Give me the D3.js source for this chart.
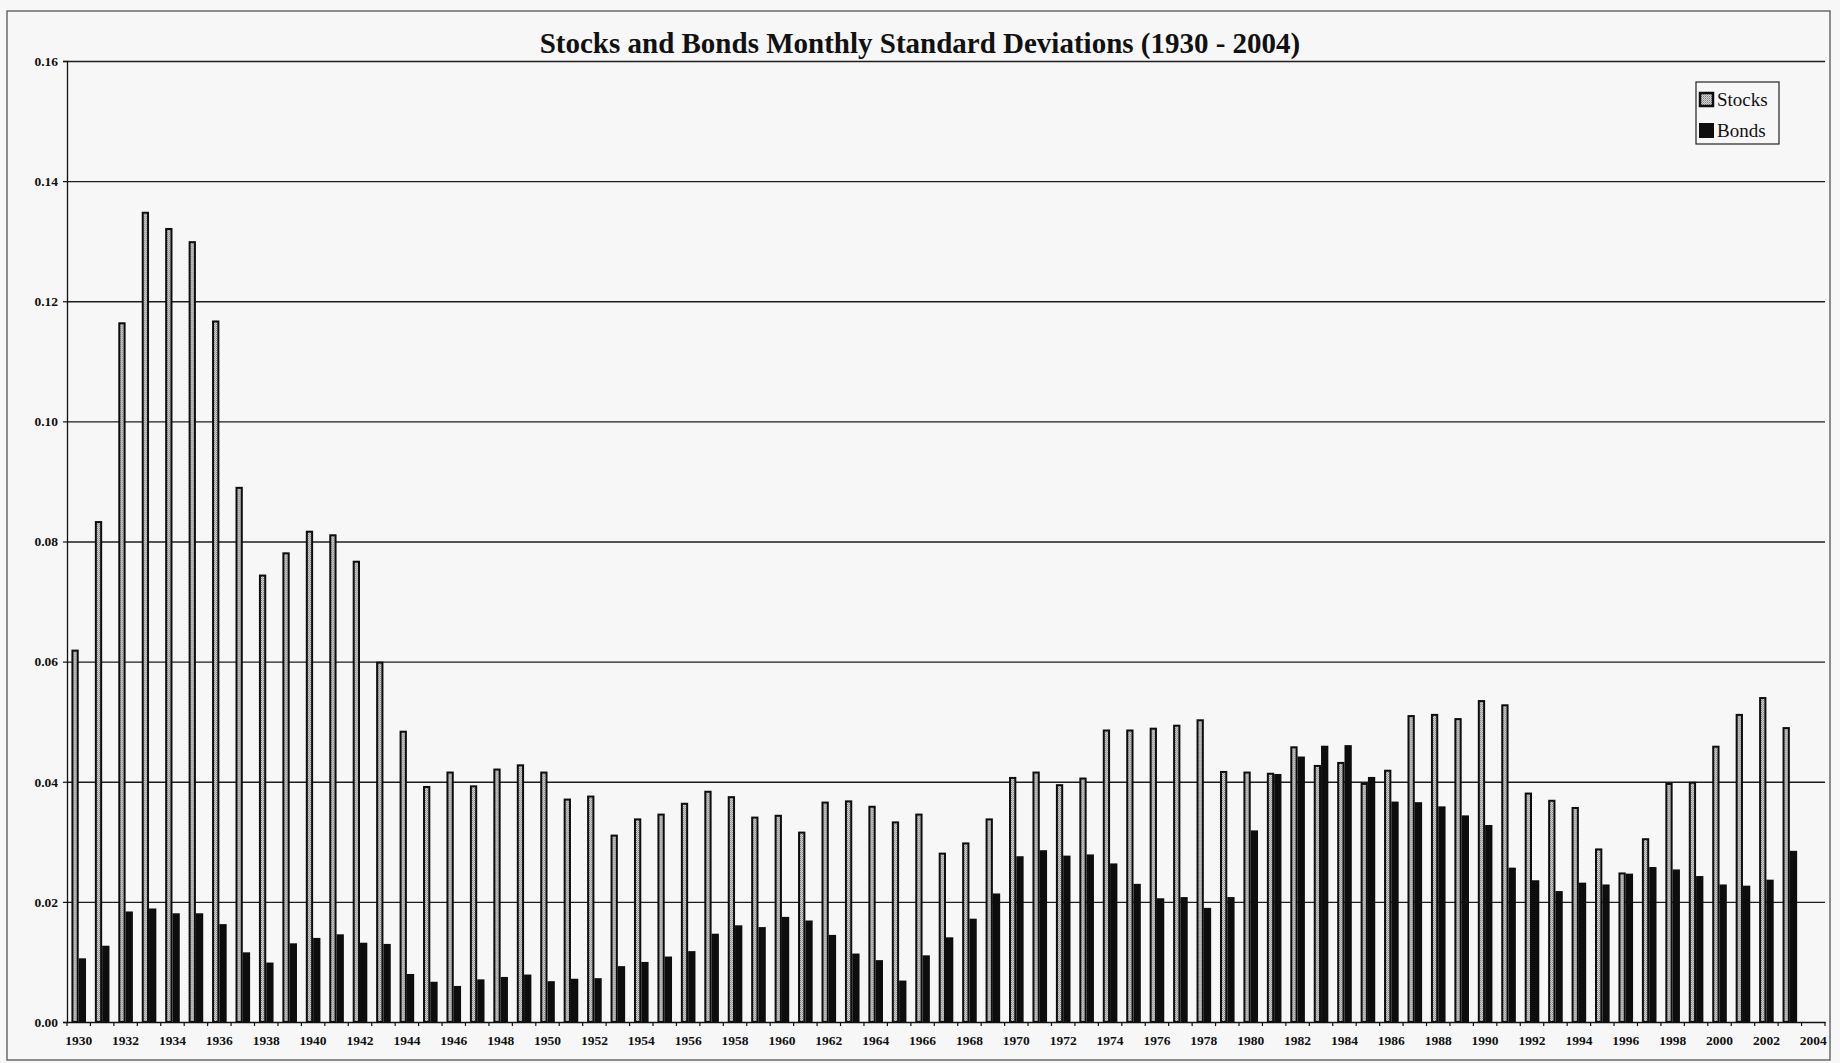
<!DOCTYPE html>
<html>
<head>
<meta charset="utf-8">
<script src="https://cdn.jsdelivr.net/npm/d3@7"></script>
<style>
  html, body { margin: 0; padding: 0; background: #f7f7f7; }
  svg { display: block; }
  text { font-family: "Liberation Serif", "Times New Roman", serif; fill: #111; }
</style>
</head>
<body>
<script>
// Calendar years on the category axis (2004 closes the axis with no bars)
const years = [
  1930, 1931, 1932, 1933, 1934, 1935, 1936, 1937, 1938, 1939,
  1940, 1941, 1942, 1943, 1944, 1945, 1946, 1947, 1948, 1949,
  1950, 1951, 1952, 1953, 1954, 1955, 1956, 1957, 1958, 1959,
  1960, 1961, 1962, 1963, 1964, 1965, 1966, 1967, 1968, 1969,
  1970, 1971, 1972, 1973, 1974, 1975, 1976, 1977, 1978, 1979,
  1980, 1981, 1982, 1983, 1984, 1985, 1986, 1987, 1988, 1989,
  1990, 1991, 1992, 1993, 1994, 1995, 1996, 1997, 1998, 1999,
  2000, 2001, 2002, 2003, 2004
];

// Monthly standard deviation of stock returns, 1930-2003
const stocks = [
  0.0620, 0.0834, 0.1165, 0.1349, 0.1322, 0.1300, 0.1168, 0.0891, 0.0745, 0.0782,
  0.0818, 0.0812, 0.0768, 0.0600, 0.0485, 0.0393, 0.0417, 0.0394, 0.0422, 0.0429,
  0.0417, 0.0372, 0.0377, 0.0312, 0.0339, 0.0347, 0.0365, 0.0385, 0.0376, 0.0342,
  0.0345, 0.0317, 0.0367, 0.0369, 0.0360, 0.0334, 0.0347, 0.0282, 0.0299, 0.0339,
  0.0408, 0.0417, 0.0396, 0.0407, 0.0487, 0.0487, 0.0490, 0.0495, 0.0504, 0.0418,
  0.0417, 0.0415, 0.0459, 0.0428, 0.0433, 0.0398, 0.0420, 0.0511, 0.0513, 0.0506,
  0.0536, 0.0529, 0.0382, 0.0370, 0.0358, 0.0289, 0.0249, 0.0306, 0.0398, 0.0400,
  0.0460, 0.0513, 0.0541, 0.0491
];

// Monthly standard deviation of bond returns, 1930-2003
const bonds = [
  0.0106, 0.0127, 0.0184, 0.0189, 0.0181, 0.0181, 0.0163, 0.0116, 0.0099, 0.0131,
  0.0140, 0.0146, 0.0132, 0.0130, 0.0080, 0.0067, 0.0060, 0.0071, 0.0075, 0.0079,
  0.0068, 0.0072, 0.0073, 0.0093, 0.0100, 0.0109, 0.0118, 0.0147, 0.0161, 0.0158,
  0.0175, 0.0169, 0.0145, 0.0114, 0.0103, 0.0069, 0.0111, 0.0141, 0.0172, 0.0214,
  0.0276, 0.0286, 0.0277, 0.0279, 0.0264, 0.0230, 0.0206, 0.0208, 0.0190, 0.0208,
  0.0319, 0.0413, 0.0442, 0.0460, 0.0461, 0.0408, 0.0367, 0.0366, 0.0359, 0.0344,
  0.0328, 0.0257, 0.0236, 0.0218, 0.0232, 0.0229, 0.0247, 0.0258, 0.0254, 0.0243,
  0.0229, 0.0227, 0.0237, 0.0285
];

const seriesNames = ["Stocks", "Bonds"];

// Value axis ticks
const yTicks = [0.00, 0.02, 0.04, 0.06, 0.08, 0.10, 0.12, 0.14, 0.16];

// Years that carry a label on the category axis
const xLabelYears = [
  1930, 1932, 1934, 1936, 1938, 1940, 1942, 1944, 1946, 1948,
  1950, 1952, 1954, 1956, 1958, 1960, 1962, 1964, 1966, 1968,
  1970, 1972, 1974, 1976, 1978, 1980, 1982, 1984, 1986, 1988,
  1990, 1992, 1994, 1996, 1998, 2000, 2002, 2004
];

const title = "Stocks and Bonds Monthly Standard Deviations (1930 - 2004)";

// ---- layout ----
const W = 1840, H = 1063;
const plot = { left: 67, right: 1825, top: 61, bottom: 1022 };
const serif = "'Liberation Serif', 'Times New Roman', serif";

const svg = d3.select("body").append("svg")
  .attr("width", W).attr("height", H);

// stippled fill used by the stock bars
const defs = svg.append("defs");
const pat = defs.append("pattern")
  .attr("id", "stipple")
  .attr("width", 2).attr("height", 2)
  .attr("patternUnits", "userSpaceOnUse");
pat.append("rect").attr("width", 2).attr("height", 2).attr("fill", "#d6d6d6");
pat.append("rect").attr("width", 1).attr("height", 1).attr("fill", "#7e7e7e");
pat.append("rect").attr("x", 1).attr("y", 1).attr("width", 1).attr("height", 1).attr("fill", "#a2a2a2");

// page background and outer frame
svg.append("rect").attr("width", W).attr("height", H).attr("fill", "#f7f7f7");
svg.append("rect")
  .attr("x", 7).attr("y", 11).attr("width", 1823).attr("height", 1049)
  .attr("fill", "none").attr("stroke", "#555").attr("stroke-width", 1.3);

// ---- scales ----
const x0 = d3.scaleBand()
  .domain(years)
  .range([plot.left, plot.right])
  .paddingInner(0.377)
  .paddingOuter(0.1885);

const x1 = d3.scaleBand()
  .domain(seriesNames)
  .range([0, x0.bandwidth()]);

const y = d3.scaleLinear()
  .domain([0, 0.16])
  .range([plot.bottom, plot.top]);

// ---- gridlines ----
svg.append("g")
  .attr("transform", `translate(${plot.left},0)`)
  .call(d3.axisLeft(y).tickValues(yTicks.filter(v => v > 0))
    .tickSize(-(plot.right - plot.left)).tickFormat(""))
  .call(g => g.select(".domain").remove())
  .call(g => g.selectAll("line").attr("stroke", "#1c1c1c").attr("stroke-width", 1.3));

// ---- bars ----
const rows = years.slice(0, stocks.length).map((yr, i) => ({
  year: yr,
  values: [
    { key: "Stocks", value: stocks[i] },
    { key: "Bonds", value: bonds[i] }
  ]
}));

const groups = svg.append("g").selectAll("g")
  .data(rows)
  .join("g")
  .attr("transform", d => `translate(${x0(d.year)},0)`);

const sw = 2;
groups.selectAll("rect")
  .data(d => d.values)
  .join("rect")
  .attr("x", d => x1(d.key) + (d.key === "Stocks" ? sw / 2 : 0))
  .attr("width", d => x1.bandwidth() - (d.key === "Stocks" ? sw : 0))
  .attr("y", d => y(d.value) + (d.key === "Stocks" ? sw / 2 : 0))
  .attr("height", d => y(0) - y(d.value) - (d.key === "Stocks" ? sw / 2 : 0))
  .attr("fill", d => d.key === "Stocks" ? "url(#stipple)" : "#0d0d0d")
  .attr("stroke", d => d.key === "Stocks" ? "#0d0d0d" : "none")
  .attr("stroke-width", sw);

// ---- value axis ----
svg.append("g")
  .attr("transform", `translate(${plot.left},0)`)
  .call(d3.axisLeft(y).tickValues(yTicks).tickSize(4).tickPadding(5)
    .tickFormat(d3.format(".2f")))
  .call(g => g.select(".domain").attr("stroke", "#111").attr("stroke-width", 1.3))
  .call(g => g.selectAll("line").attr("stroke", "#111").attr("stroke-width", 1.2))
  .call(g => g.selectAll("text")
    .attr("font-family", serif)
    .attr("font-size", 13.5).attr("font-weight", "bold").attr("fill", "#111"));

// ---- category axis ----
const xAxis = svg.append("g")
  .attr("transform", `translate(0,${plot.bottom})`)
  .call(d3.axisBottom(x0).tickValues(xLabelYears).tickSize(0).tickPadding(13))
  .call(g => g.select(".domain").attr("stroke", "#111").attr("stroke-width", 1.3))
  .call(g => g.selectAll("text")
    .attr("font-family", serif)
    .attr("font-size", 13.5).attr("font-weight", "bold").attr("fill", "#111"));

// tick marks sit on the boundaries between years
const boundaries = years.map(yr => x0(yr) - x0.step() * x0.paddingOuter())
  .concat([plot.right]);
xAxis.selectAll("line.boundary")
  .data(boundaries)
  .join("line")
  .attr("class", "boundary")
  .attr("x1", d => d).attr("x2", d => d)
  .attr("y1", 0).attr("y2", 4)
  .attr("stroke", "#111").attr("stroke-width", 1.2);

// ---- title ----
svg.append("text")
  .attr("x", 920).attr("y", 53)
  .attr("text-anchor", "middle")
  .attr("font-size", 29).attr("font-weight", "bold")
  .text(title);

// ---- legend ----
const legend = svg.append("g").attr("transform", "translate(1696,82)");
legend.append("rect")
  .attr("width", 83).attr("height", 62)
  .attr("fill", "#f7f7f7").attr("stroke", "#222").attr("stroke-width", 1.2);
const items = legend.selectAll("g.item")
  .data(seriesNames)
  .join("g")
  .attr("class", "item")
  .attr("transform", (d, i) => `translate(3,${10 + i * 31})`);
items.append("rect")
  .attr("x", d => d === "Stocks" ? 1 : 0)
  .attr("y", d => d === "Stocks" ? 1 : 0)
  .attr("width", d => d === "Stocks" ? 13 : 15)
  .attr("height", d => d === "Stocks" ? 13 : 15)
  .attr("fill", d => d === "Stocks" ? "url(#stipple)" : "#0d0d0d")
  .attr("stroke", d => d === "Stocks" ? "#0d0d0d" : "none")
  .attr("stroke-width", 2.5);
items.append("text")
  .attr("x", 18).attr("y", 14)
  .attr("font-size", 19)
  .text(d => d);
</script>
</body>
</html>
